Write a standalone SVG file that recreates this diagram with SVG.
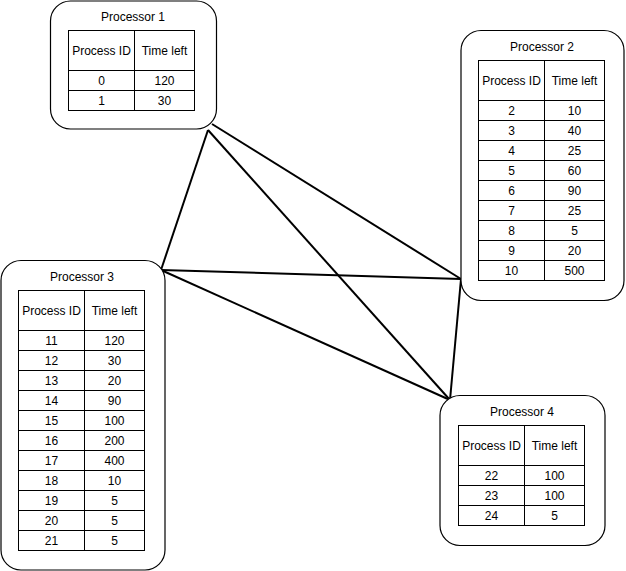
<svg xmlns="http://www.w3.org/2000/svg" width="626" height="571" viewBox="0 0 626 571">
<style>
.box{fill:#fff;stroke:#000;stroke-width:1.2}
.tbl{fill:#fff;stroke:#000;stroke-width:1}
.ln{stroke:#000;stroke-width:1;fill:none}
.edge{stroke:#000;stroke-width:2;fill:none}
text{font-family:"Liberation Sans",Arial,sans-serif;font-size:12px;fill:#000;text-anchor:middle}
</style>
<rect width="626" height="571" fill="#fff"/>
<g id="connectors">
<line class="edge" x1="212" y1="124" x2="461" y2="279"/>
<line class="edge" x1="208" y1="130" x2="161" y2="270"/>
<line class="edge" x1="208" y1="130" x2="450" y2="400"/>
<line class="edge" x1="161" y1="270" x2="461" y2="279"/>
<line class="edge" x1="161" y1="270" x2="450" y2="400"/>
<line class="edge" x1="461" y1="279" x2="450" y2="400"/>
</g>
<g id="processor1">
<rect class="box" x="50.5" y="1" width="166" height="128" rx="20"/>
<text x="133" y="21">Processor 1</text>
<rect class="tbl" x="68.5" y="30.5" width="126" height="80"/>
<path class="ln" d="M134.5 30.5V110.5M68.5 70.5H194.5M68.5 90.5H194.5"/>
<text x="101.5" y="55">Process ID</text><text x="164.5" y="55">Time left</text>
<text x="101.5" y="85">0</text><text x="164.5" y="85">120</text>
<text x="101.5" y="105">1</text><text x="164.5" y="105">30</text>
</g>
<g id="processor2">
<rect class="box" x="461" y="30.5" width="163" height="270" rx="20"/>
<text x="542" y="51">Processor 2</text>
<rect class="tbl" x="478.5" y="60.5" width="126" height="220"/>
<path class="ln" d="M544.5 60.5V280.5M478.5 100.5H604.5M478.5 120.5H604.5M478.5 140.5H604.5M478.5 160.5H604.5M478.5 180.5H604.5M478.5 200.5H604.5M478.5 220.5H604.5M478.5 240.5H604.5M478.5 260.5H604.5"/>
<text x="511.5" y="85">Process ID</text><text x="574.5" y="85">Time left</text>
<text x="511.5" y="115">2</text><text x="574.5" y="115">10</text>
<text x="511.5" y="135">3</text><text x="574.5" y="135">40</text>
<text x="511.5" y="155">4</text><text x="574.5" y="155">25</text>
<text x="511.5" y="175">5</text><text x="574.5" y="175">60</text>
<text x="511.5" y="195">6</text><text x="574.5" y="195">90</text>
<text x="511.5" y="215">7</text><text x="574.5" y="215">25</text>
<text x="511.5" y="235">8</text><text x="574.5" y="235">5</text>
<text x="511.5" y="255">9</text><text x="574.5" y="255">20</text>
<text x="511.5" y="275">10</text><text x="574.5" y="275">500</text>
</g>
<g id="processor3">
<rect class="box" x="1" y="260.5" width="164" height="309.5" rx="20"/>
<text x="82" y="281">Processor 3</text>
<rect class="tbl" x="18.5" y="290.5" width="126" height="260"/>
<path class="ln" d="M84.5 290.5V550.5M18.5 330.5H144.5M18.5 350.5H144.5M18.5 370.5H144.5M18.5 390.5H144.5M18.5 410.5H144.5M18.5 430.5H144.5M18.5 450.5H144.5M18.5 470.5H144.5M18.5 490.5H144.5M18.5 510.5H144.5M18.5 530.5H144.5"/>
<text x="51.5" y="315">Process ID</text><text x="114.5" y="315">Time left</text>
<text x="51.5" y="345">11</text><text x="114.5" y="345">120</text>
<text x="51.5" y="365">12</text><text x="114.5" y="365">30</text>
<text x="51.5" y="385">13</text><text x="114.5" y="385">20</text>
<text x="51.5" y="405">14</text><text x="114.5" y="405">90</text>
<text x="51.5" y="425">15</text><text x="114.5" y="425">100</text>
<text x="51.5" y="445">16</text><text x="114.5" y="445">200</text>
<text x="51.5" y="465">17</text><text x="114.5" y="465">400</text>
<text x="51.5" y="485">18</text><text x="114.5" y="485">10</text>
<text x="51.5" y="505">19</text><text x="114.5" y="505">5</text>
<text x="51.5" y="525">20</text><text x="114.5" y="525">5</text>
<text x="51.5" y="545">21</text><text x="114.5" y="545">5</text>
</g>
<g id="processor4">
<rect class="box" x="440" y="395.5" width="165" height="150" rx="20"/>
<text x="522" y="416">Processor 4</text>
<rect class="tbl" x="458.5" y="425.5" width="126" height="100"/>
<path class="ln" d="M524.5 425.5V525.5M458.5 465.5H584.5M458.5 485.5H584.5M458.5 505.5H584.5"/>
<text x="491.5" y="450">Process ID</text><text x="554.5" y="450">Time left</text>
<text x="491.5" y="480">22</text><text x="554.5" y="480">100</text>
<text x="491.5" y="500">23</text><text x="554.5" y="500">100</text>
<text x="491.5" y="520">24</text><text x="554.5" y="520">5</text>
</g>
</svg>
